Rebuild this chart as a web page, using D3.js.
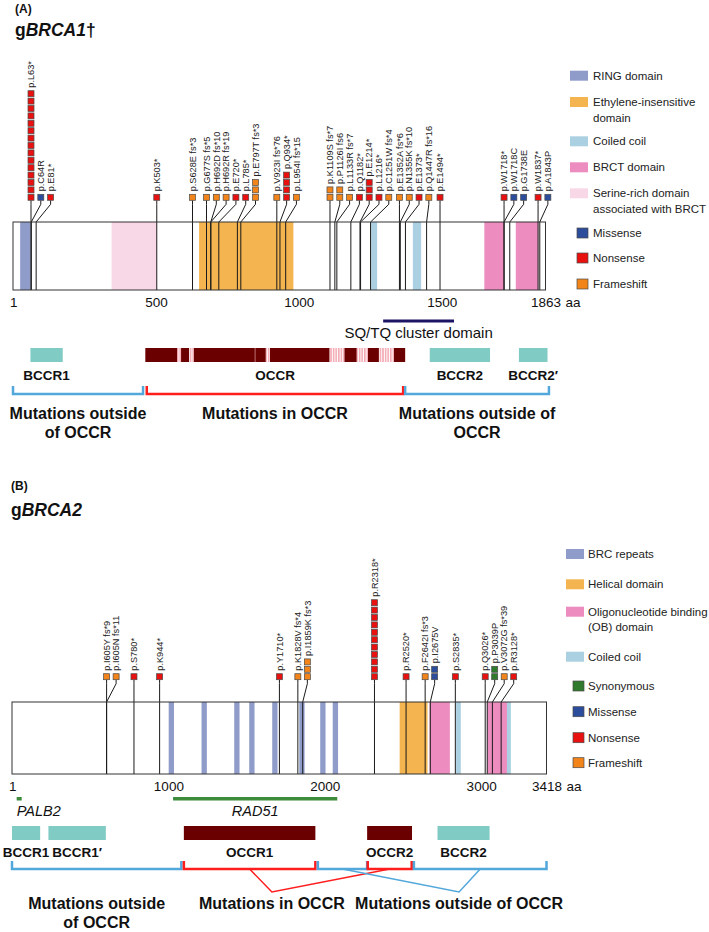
<!DOCTYPE html>
<html><head><meta charset="utf-8">
<script src="https://cdn.jsdelivr.net/npm/d3@7"></script>
<style>
body{margin:0;background:#fff;}
svg{display:block;font-family:"Liberation Sans",Arial,Helvetica,sans-serif;}
</style></head><body>
<svg id="chart" width="709" height="932"></svg>
<script>
// ================= DATA =================
// ---- gBRCA1 ----
const brca1Length = 1863;
const brca1Ticks = [1, 500, 1000, 1500, 1863];
const brca1MutLabels = ["p.L63*","p.C64R","p.E81*","p.K503*","p.S628E fs*3","p.G677S fs*5","p.H692D fs*10","p.H692R fs*19","p.E720*","p.L785*","p.E797T fs*3","p.V923I fs*76","p.Q934*","p.L954I fs*15","p.K1109S fs*7","p.P1126I fs6","p.L1133R fs*7","p.Q1182*","p.E1214*","p.L1216*","p.C1251W fs*4","p.E1352A fs*6","p.N1355K fs*10","p.E1373*","p.Q1447R fs*16","p.E1494*","p.W1718*","p.W1718C","p.G1738E","p.W1837*","p.A1843P"];
const brca1MutPos = [63,64,81,503,628,677,692,692,720,785,797,923,934,954,1109,1126,1133,1182,1214,1216,1251,1352,1355,1373,1447,1494,1718,1718,1738,1837,1843];
const brca1MutType = ["Nonsense","Missense","Nonsense","Nonsense","Frameshift","Frameshift","Frameshift","Frameshift","Nonsense","Nonsense","Frameshift","Frameshift","Nonsense","Frameshift","Frameshift","Frameshift","Frameshift","Nonsense","Nonsense","Nonsense","Frameshift","Frameshift","Frameshift","Nonsense","Frameshift","Nonsense","Nonsense","Missense","Missense","Nonsense","Missense"];
const brca1MutCount = [15,1,1,1,1,1,1,1,1,1,3,1,4,1,2,2,1,1,3,1,1,1,1,1,1,1,1,1,1,1,1];
const brca1DomainKeys = ["RING","SER","EIN","CC","CC","BRCT","BRCT"];
const brca1DomainStart = [25,345,651,1253,1399,1649,1759];
const brca1DomainEnd = [62,503,981,1274,1428,1718,1838];
const brca1LegendKeys = ["RING","EIN","CC","BRCT","SER","Missense","Nonsense","Frameshift"];
const brca1LegendText = ["RING domain","Ethylene-insensitive|domain","Coiled coil","BRCT domain","Serine-rich domain|associated with BRCT","Missense","Nonsense","Frameshift"];
const brca1SqTq = [1295, 1543];
const brca1RegionNames = ["BCCR1","OCCR","BCCR2","BCCR2\u2032"];
const brca1RegionStart = [61,463,1458,1770];
const brca1RegionEnd = [174,1372,1669,1870];
const brca1RegionKind = ["BCCR","OCCR","BCCR","BCCR"];
const brca1OccrDark = [[463,574],[588,616],[633,846],[848,884],[899,1107],[1160,1202],[1242,1280],[1333,1372]];
const brca1BracketStart = [0,468,1372];
const brca1BracketEnd = [455,1365,1875];
const brca1BracketKind = ["out","in","out"];
const brca1GroupText = ["Mutations outside|of OCCR","Mutations in OCCR","Mutations outside of|OCCR"];

// ---- gBRCA2 ----
const brca2Length = 3418;
const brca2Ticks = [1, 1000, 2000, 3000, 3418];
const brca2MutLabels = ["p.I605Y fs*9","p.I605N fs*11","p.S780*","p.K944*","p.Y1710*","p.K1828V fs*4","p.I1859K fs*3","p.R2318*","p.R2520*","p.F2642I fs*3","p.I2675V","p.S2835*","p.Q3026*","p.P3039P","p.V3072G fs*39","p.R3128*"];
const brca2MutPos = [605,605,780,944,1710,1828,1859,2318,2520,2642,2675,2835,3026,3039,3072,3128];
const brca2MutType = ["Frameshift","Frameshift","Nonsense","Nonsense","Nonsense","Frameshift","Frameshift","Nonsense","Nonsense","Frameshift","Missense","Nonsense","Nonsense","Synonymous","Frameshift","Nonsense"];
const brca2MutCount = [1,1,1,1,1,1,3,11,1,1,2,1,1,2,1,1];
const brca2DomainKeys = ["BRC","BRC","BRC","BRC","BRC","BRC","BRC","BRC","HEL","OB","CC","OB","CC"];
const brca2DomainStart = [1002,1212,1421,1517,1664,1837,1971,2051,2479,2670,2840,3040,3165];
const brca2DomainEnd = [1036,1246,1455,1551,1698,1871,2005,2085,2657,2800,2870,3165,3190];
const brca2LegendKeys = ["BRC","HEL","OB","CC","Synonymous","Missense","Nonsense","Frameshift"];
const brca2LegendText = ["BRC repeats","Helical domain","Oligonucleotide binding|(OB) domain","Coiled coil","Synonymous","Missense","Nonsense","Frameshift"];
const brca2BindNames = ["PALB2","RAD51"];
const brca2BindStart = [30, 1030];
const brca2BindEnd = [62, 2080];
const brca2RegionNames = ["BCCR1","BCCR1\u2032","OCCR1","OCCR2","BCCR2"];
const brca2RegionStart = [0,233,1099,2271,2721];
const brca2RegionEnd = [180,600,1940,2558,3054];
const brca2RegionKind = ["BCCR","BCCR","OCCR","OCCR","BCCR"];
const brca2BracketStart = [0,1099,1956,2275,2570];
const brca2BracketEnd = [1083,1940,2271,2556,3418];
const brca2BracketKind = ["out","in","out","in","out"];
const brca2GroupText = ["Mutations outside|of OCCR","Mutations in OCCR","Mutations outside of OCCR"];

// ================= STYLE =================
const FONT = '"Liberation Sans", Arial, Helvetica, sans-serif';
const domainFill = {RING:"#8f9cc9", EIN:"#f4b551", CC:"#abd0e2", BRCT:"#ec8cbf", SER:"#f8d7e6", BRC:"#8f9cc9", HEL:"#f4b551", OB:"#ec8cbf"};
const typeColor = {Missense:"#2b4d9b", Nonsense:"#e8110f", Frameshift:"#f2841a", Synonymous:"#2f7a2c"};
const regionFill = {BCCR:"#80cbc4", OCCR:"#6b0000"};
const bracketColor = {out:"#52a7db", in:"#ff1d1d"};
const MS = 6, PITCH = 7.4;

const svg = d3.select("#chart");
const defs = svg.append("defs");
const pat = defs.append("pattern").attr("id","stripes").attr("patternUnits","userSpaceOnUse").attr("width",2.6).attr("height",20);
pat.append("rect").attr("width",2.6).attr("height",20).attr("fill","#fff");
pat.append("rect").attr("width",1.6).attr("height",20).attr("fill","#f4aab4");

function title(x, yTag, yTitle, tag, gene) {
  svg.append("text").attr("x",x).attr("y",yTag).attr("font-size",12).attr("font-weight","bold").attr("fill","#111").text(tag);
  const t = svg.append("text").attr("x",x).attr("y",yTitle).attr("font-size",17.5).attr("font-weight","bold").attr("fill","#111");
  t.append("tspan").text("g");
  t.append("tspan").attr("font-style","italic").text(gene.name);
  if (gene.dagger) t.append("tspan").text("\u2020");
}

function drawGene(cfg) {
  const x = d3.scaleLinear().domain([0, cfg.length]).range(cfg.range);
  const g = svg.append("g");
  const bt = cfg.boxTop, bb = cfg.boxBot;
  g.append("rect").attr("x",x(0)).attr("y",bt).attr("width",x(cfg.length)-x(0)).attr("height",bb-bt).attr("fill","#fff");
  const doms = cfg.domKeys.map((k,i)=>({k, s:cfg.domStart[i], e:cfg.domEnd[i]}));
  g.selectAll("rect.dom").data(doms).join("rect").attr("class","dom")
    .attr("x",d=>x(d.s)).attr("y",bt).attr("width",d=>x(d.e)-x(d.s)).attr("height",bb-bt)
    .attr("fill",d=>domainFill[d.k]);
  const muts = cfg.labels.map((l,i)=>({label:l, pos:cfg.pos[i], type:cfg.types[i], count:cfg.counts[i]}));
  let prev = -Infinity;
  muts.forEach(m => { m.mx = Math.max(x(m.pos), prev + cfg.spacing); prev = m.mx; });
  const by = cfg.baseY;
  g.selectAll("path.stem").data(muts).join("path").attr("class","stem")
    .attr("d", m => `M${m.mx},${by+MS/2}V${by+MS/2+4}L${x(m.pos)},${bt}V${bb}`)
    .attr("fill","none").attr("stroke","#1a1a1a").attr("stroke-width",1);
  g.append("rect").attr("x",x(0)).attr("y",bt).attr("width",x(cfg.length)-x(0)).attr("height",bb-bt)
    .attr("fill","none").attr("stroke","#333").attr("stroke-width",1);
  const cells = muts.flatMap(m => d3.range(m.count).map(k => ({m, k})));
  g.selectAll("rect.mk").data(cells).join("rect").attr("class","mk")
    .attr("x", d => d.m.mx - MS/2).attr("y", d => by - d.k*PITCH - MS/2)
    .attr("width", MS).attr("height", MS)
    .attr("fill", d => typeColor[d.m.type]).attr("stroke","#4a4a4a").attr("stroke-width",0.7);
  g.selectAll("text.lab").data(muts).join("text").attr("class","lab")
    .attr("transform", m => `translate(${m.mx},${by-(m.count-1)*PITCH-MS/2-3}) rotate(-90)`)
    .attr("dy","0.35em").attr("font-size",9.2).attr("fill","#222").text(m => m.label);
  const ax = d3.axisBottom(x).tickValues(cfg.ticks).tickSize(0).tickPadding(7).tickFormat(d3.format("d"));
  const ag = g.append("g").attr("transform",`translate(0,${bb})`).call(ax);
  ag.select(".domain").remove();
  ag.selectAll("text").attr("font-size",13.5).attr("font-family",FONT).attr("fill","#111");
  g.append("text").attr("x",x(cfg.length)+20).attr("y",bb+16.5).attr("font-size",13.5).attr("fill","#111").text("aa");
  return x;
}

function legend(keys, texts, ys, domX, mutX, textX) {
  const g = svg.append("g");
  keys.forEach((k,i) => {
    const y = ys[i];
    if (domainFill[k] && !typeColor[k]) {
      g.append("rect").attr("x",domX).attr("y",y-5).attr("width",18).attr("height",10).attr("fill",domainFill[k]);
    } else {
      g.append("rect").attr("x",mutX).attr("y",y-5).attr("width",11).attr("height",10).attr("fill",typeColor[k]).attr("stroke","#4a4a4a").attr("stroke-width",0.7);
    }
    texts[i].split("|").forEach((line,j) => {
      g.append("text").attr("x",textX).attr("y",y+4+j*15.5).attr("font-size",11.5).attr("fill","#222").text(line);
    });
  });
}

function regions(x, names, starts, ends, kinds, y0, h, labelY) {
  const g = svg.append("g");
  names.forEach((n,i) => {
    g.append("rect").attr("x",x(starts[i])).attr("y",y0).attr("width",x(ends[i])-x(starts[i])).attr("height",h).attr("fill",regionFill[kinds[i]]);
    g.append("text").attr("x",(x(starts[i])+x(ends[i]))/2).attr("y",labelY).attr("text-anchor","middle")
      .attr("font-size",13.5).attr("font-weight","bold").attr("fill","#111").text(n);
  });
  return g;
}

function brackets(x, starts, ends, kinds, y) {
  const g = svg.append("g");
  starts.forEach((s,i) => {
    g.append("path").attr("d",`M${x(s)},${y-8}V${y}H${x(ends[i])}V${y-8}`)
      .attr("fill","none").attr("stroke",bracketColor[kinds[i]]).attr("stroke-width",2.5);
  });
}

function groupText(cx, y, txt) {
  txt.split("|").forEach((line,j) => {
    svg.append("text").attr("x",cx).attr("y",y+j*19).attr("text-anchor","middle")
      .attr("font-size",16).attr("font-weight","bold").attr("fill","#111").text(line);
  });
}

// ================= gBRCA1 =================
title(15, 12.5, 36, "(A)", {name:"BRCA1", dagger:true});
const x1 = drawGene({length:brca1Length, range:[13,545.5], ticks:brca1Ticks, boxTop:222, boxBot:290, baseY:197.3, spacing:9.8,
  labels:brca1MutLabels, pos:brca1MutPos, types:brca1MutType, counts:brca1MutCount,
  domKeys:brca1DomainKeys, domStart:brca1DomainStart, domEnd:brca1DomainEnd});
legend(brca1LegendKeys, brca1LegendText, [75.7,102,141.3,167.3,193.3,233,258,284], 570, 577, 593);
// SQ/TQ
svg.append("line").attr("x1",x1(brca1SqTq[0])).attr("x2",x1(brca1SqTq[1])).attr("y1",321).attr("y2",321).attr("stroke","#1c1464").attr("stroke-width",3);
svg.append("text").attr("x",(x1(brca1SqTq[0])+x1(brca1SqTq[1]))/2).attr("y",338).attr("text-anchor","middle").attr("font-size",15).attr("fill","#111").text("SQ/TQ cluster domain");
// OCCR stripes + dark segments
{
  const oi = brca1RegionKind.indexOf("OCCR");
  svg.append("rect").attr("x",x1(brca1RegionStart[oi])).attr("y",348).attr("width",x1(brca1RegionEnd[oi])-x1(brca1RegionStart[oi])).attr("height",14).attr("fill","url(#stripes)");
  svg.selectAll("rect.occr1").data(brca1OccrDark).join("rect").attr("class","occr1")
    .attr("x",d=>x1(d[0])).attr("y",348).attr("width",d=>x1(d[1])-x1(d[0])).attr("height",14).attr("fill",regionFill.OCCR);
  const bi = brca1RegionKind.map((k,i)=>k==="BCCR"?i:-1).filter(i=>i>=0);
  regions(x1, bi.map(i=>brca1RegionNames[i]), bi.map(i=>brca1RegionStart[i]), bi.map(i=>brca1RegionEnd[i]), bi.map(i=>brca1RegionKind[i]), 348, 14, 380);
  svg.append("text").attr("x",(x1(brca1RegionStart[oi])+x1(brca1RegionEnd[oi]))/2).attr("y",380).attr("text-anchor","middle")
    .attr("font-size",13.5).attr("font-weight","bold").attr("fill","#111").text(brca1RegionNames[oi]);
}
brackets(x1, brca1BracketStart, brca1BracketEnd, brca1BracketKind, 394);
brca1BracketStart.forEach((s,i) => groupText((x1(s)+x1(brca1BracketEnd[i]))/2, 419, brca1GroupText[i]));

// ================= gBRCA2 =================
title(11, 490, 516, "(B)", {name:"BRCA2", dagger:false});
const x2 = drawGene({length:brca2Length, range:[12,546.5], ticks:brca2Ticks, boxTop:702, boxBot:774, baseY:676.7, spacing:9.5,
  labels:brca2MutLabels, pos:brca2MutPos, types:brca2MutType, counts:brca2MutCount,
  domKeys:brca2DomainKeys, domStart:brca2DomainStart, domEnd:brca2DomainEnd});
legend(brca2LegendKeys, brca2LegendText, [554,584.3,611.7,656.7,686,711.7,737.7,762.7], 566, 573, 588);
// binding partners
brca2BindNames.forEach((n,i) => {
  svg.append("rect").attr("x",x2(brca2BindStart[i])).attr("y",797).attr("width",x2(brca2BindEnd[i])-x2(brca2BindStart[i])).attr("height",3.5).attr("fill","#3c8c3c");
  svg.append("text").attr("x", i===0 ? x2(brca2BindStart[i]) : (x2(brca2BindStart[i])+x2(brca2BindEnd[i]))/2)
    .attr("y",816).attr("text-anchor", i===0 ? "start" : "middle")
    .attr("font-size",14.5).attr("font-style","italic").attr("fill","#111").text(n);
});
regions(x2, brca2RegionNames, brca2RegionStart, brca2RegionEnd, brca2RegionKind, 826, 14, 857);
brackets(x2, brca2BracketStart, brca2BracketEnd, brca2BracketKind, 869);
{
  const mid = i => (x2(brca2BracketStart[i]) + x2(brca2BracketEnd[i]))/2;
  const inX = x2(1662), outX = x2(2859), vy = 892;
  svg.append("path").attr("d",`M${mid(1)},869L${inX},${vy}L${mid(3)},869`).attr("fill","none").attr("stroke",bracketColor.in).attr("stroke-width",1.5);
  svg.append("path").attr("d",`M${mid(2)},869L${outX},${vy}L${mid(4)},869`).attr("fill","none").attr("stroke",bracketColor.out).attr("stroke-width",1.5);
  groupText(mid(0), 909, brca2GroupText[0]);
  groupText(inX, 909, brca2GroupText[1]);
  groupText(outX, 909, brca2GroupText[2]);
}
</script>
</body></html>
